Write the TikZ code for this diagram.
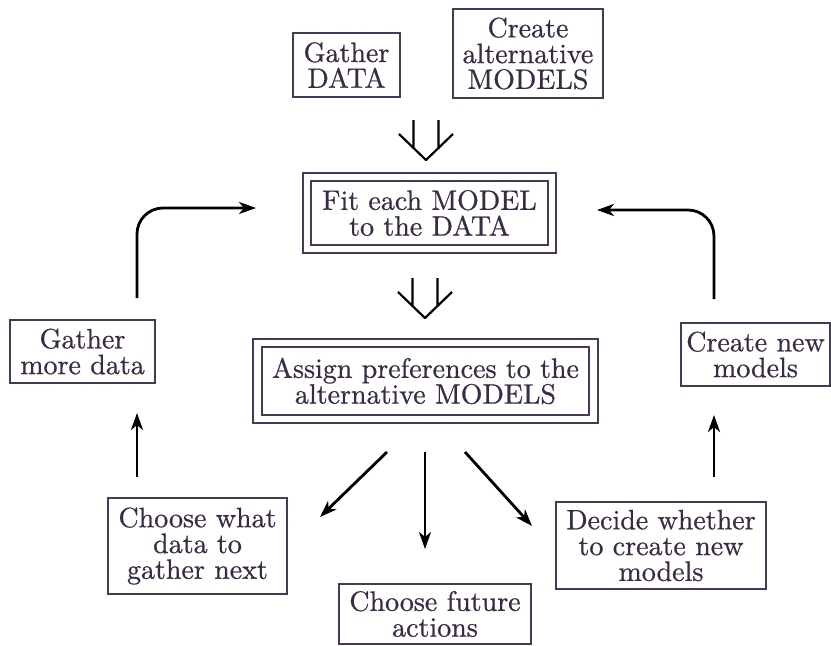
\documentclass[tikz,border=0pt]{standalone}
\usepackage{fontspec}
\setmainfont{lmroman10-regular}[Extension=.otf, FakeBold=0.7]
\usetikzlibrary{arrows.meta}
\definecolor{ink}{HTML}{3B2A45}
\definecolor{frame}{HTML}{4A3858}
\begin{document}
\begin{tikzpicture}[x=1pt,y=-1pt,
  box/.style={draw=frame, line width=2pt, text=ink, align=center,
    inner sep=0pt, font=\fontsize{28}{25.8}\selectfont},
  dbox/.style={box, double=white, double distance=6.3pt},
  arr/.style={line width=2.8pt, -{Stealth[length=17pt,width=12pt,inset=5pt]}},
  pics/twoarrow/.style={code={
    \draw[line width=2.2pt, line join=round]
      (-12.5,-40) -- (-12.5,-12) (12.5,-40) -- (12.5,-12)
      (-27,-26) -- (0,0) -- (27,-26);}}]
\useasboundingbox (0,0) rectangle (831,646);

% top inputs
\node[box, minimum width=107pt, minimum height=64pt] (gdata) at (346.5,65) {Gather\\DATA};
\node[box, minimum width=150pt, minimum height=89pt] (cmod) at (528,53.5) {Create\\alternative\\MODELS};

% central steps
\node[dbox, minimum width=244.5pt, minimum height=71.5pt] (fit) at (429.5,213) {Fit each MODEL\\to the DATA};
\node[dbox, minimum width=336pt, minimum height=76.5pt] (assign) at (425.5,381) {Assign preferences to the\\alternative MODELS};

% side steps
\node[box, minimum width=145pt, minimum height=63pt] (gmore) at (82.5,351.5) {Gather\\more data};
\node[box, minimum width=149pt, minimum height=63pt] (cnew) at (755.5,354.5) {Create new\\models};

% outcomes
\node[box, minimum width=179pt, minimum height=96pt] (cwhat) at (197.5,546) {Choose what\\data to\\gather next};
\node[box, minimum width=192pt, minimum height=60pt] (cfut) at (435,614) {Choose future\\actions};
\node[box, minimum width=210pt, minimum height=87pt] (decide) at (661,545.5) {Decide whether\\to create new\\models};

% merging double arrows
\pic at (426,160) {twoarrow};
\pic at (425,318) {twoarrow};

% connector end points
\coordinate (lupS) at (137,477);
\coordinate (lupE) at (137,413);
\coordinate (lloopS) at (137,298);
\coordinate (lloopE) at (256,208);
\coordinate (rupS) at (714,477);
\coordinate (rupE) at (714,415);
\coordinate (rloopS) at (714,299);
\coordinate (rloopE) at (597,210);
\coordinate (fanL) at (387,452);
\coordinate (fanC) at (425,452);
\coordinate (fanR) at (465,452);
\coordinate (toL) at (320,517);
\coordinate (toC) at (425,549);
\coordinate (toR) at (532,526);

% loops back to fitting
\draw[arr] (lupS) -- (lupE);
\draw[arr, rounded corners=26pt] (lloopS) |- (lloopE);
\draw[arr] (rupS) -- (rupE);
\draw[arr, rounded corners=26pt] (rloopS) |- (rloopE);

% fan out from preferences
\draw[arr] (fanL) -- (toL);
\draw[arr] (fanC) -- (toC);
\draw[arr] (fanR) -- (toR);
\end{tikzpicture}
\end{document}
